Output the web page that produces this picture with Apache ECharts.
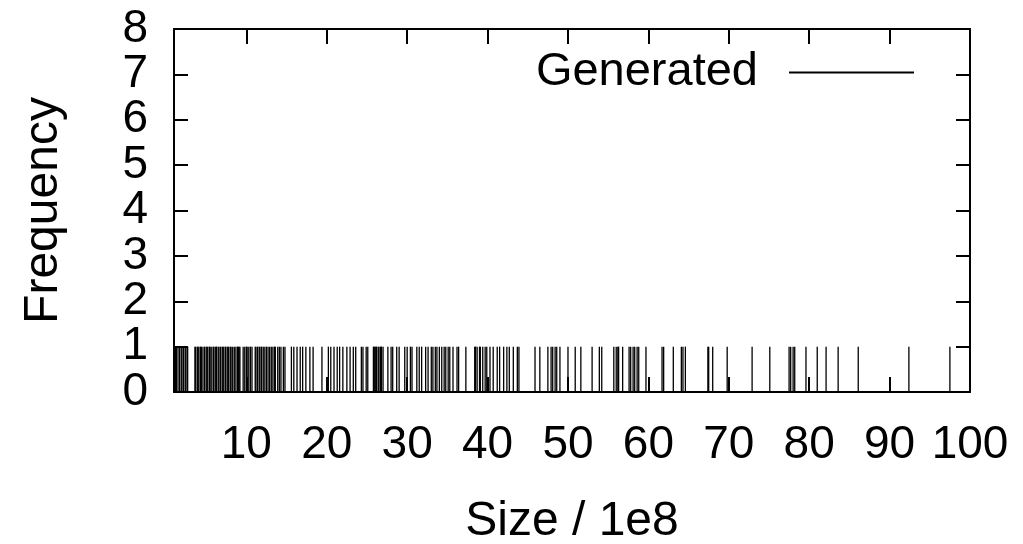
<!DOCTYPE html>
<html>
<head>
<meta charset="utf-8">
<title>Generated sizes</title>
<script src="https://cdn.jsdelivr.net/npm/echarts@6/dist/echarts.min.js"></script>
<style>
  html, body { margin: 0; padding: 0; background: #fff; }
  #chart { width: 1023px; height: 544px; }
</style>
</head>
<body>
<div id="chart"></div>
<script>
// sizes (in units of 1e8)
var sizesLow = [1.2, 1.3, 1.5, 1.7, 1.9, 2.0, 2.2, 2.4, 2.5, 2.7, 3.6, 3.7, 3.9, 4.0, 4.1, 4.3, 4.4,
    4.6, 4.8, 5.0, 5.1, 5.2, 5.4, 5.5, 5.7, 5.9, 6.1, 6.2, 6.3, 6.5, 6.6, 6.8, 7.0, 7.1, 7.2,
    7.4, 7.6, 7.7, 7.8, 8.0, 8.1, 8.3, 8.5, 8.7, 8.9, 9.0, 9.1, 9.2, 9.6, 9.8, 10.0, 10.1,
    10.3, 10.5, 10.7, 11.1, 11.2, 11.4, 11.6, 11.7, 11.9, 12.1, 12.3, 12.5, 12.7, 12.9, 13.1,
    13.3, 13.5, 13.6, 13.9, 14.1, 14.3, 14.6, 14.8, 15.6, 15.9, 16.3, 16.7, 17.0, 17.4, 17.9,
    18.3, 19.4];
var sizesMid = [20.2, 20.5, 20.9, 21.3, 21.6, 22.0, 22.5, 22.9, 23.3, 23.6, 24.3, 24.5, 24.9, 25.1,
    25.8, 25.9, 26.0, 26.1, 26.2, 26.4, 26.5, 26.7, 26.8, 27.0, 27.6, 28.0, 28.2, 28.7, 29.0,
    29.7, 30.0, 30.4, 30.6, 31.2, 31.5, 31.8, 32.3, 32.6, 33.0, 33.2, 33.5, 33.7, 34.0, 34.3,
    34.6, 34.8, 35.1, 35.3, 35.7, 36.2, 36.4, 37.3, 38.4, 38.5, 38.7, 39.0, 39.1, 39.4, 39.7,
    39.9];
var sizesHigh = [40.3, 40.7, 41.2, 41.5, 42.0, 42.4, 42.7, 43.2, 43.7, 43.9, 45.9, 46.5, 47.5, 47.9,
    48.1, 48.4, 48.6, 49.0, 50.0, 50.9, 51.6, 53.0, 53.9, 54.2, 55.7, 56.0, 56.2, 56.3, 56.8,
    57.6, 57.8, 58.1, 58.3, 58.6, 58.8, 59.7];
var sizesTail = [61.7, 61.9, 63.1, 64.1, 64.3, 64.6, 67.4, 67.5, 68.0, 69.8, 72.9, 75.1, 77.5, 77.7,
    78.0, 78.2, 79.6, 81.0, 82.1, 83.6, 86.1, 92.4, 97.5];
// every size shows up once
var freqLow  = [1,1,1,1,1,1,1,1,1,1, 1,1,1,1,1,1,1,1,1,1, 1,1,1,1,1,1,1,1,1,1, 1,1,1,1,1,1,1,1,1,1,
    1,1,1,1,1,1,1,1,1,1, 1,1,1,1,1,1,1,1,1,1, 1,1,1,1,1,1,1,1,1,1, 1,1,1,1,1,1,1,1,1,1, 1,1,1,1];
var freqMid  = [1,1,1,1,1,1,1,1,1,1, 1,1,1,1,1,1,1,1,1,1, 1,1,1,1,1,1,1,1,1,1, 1,1,1,1,1,1,1,1,1,1,
    1,1,1,1,1,1,1,1,1,1, 1,1,1,1,1,1,1,1,1,1];
var freqHigh = [1,1,1,1,1,1,1,1,1,1, 1,1,1,1,1,1,1,1,1,1, 1,1,1,1,1,1,1,1,1,1, 1,1,1,1,1,1];
var freqTail = [1,1,1,1,1,1,1,1,1,1, 1,1,1,1,1,1,1,1,1,1, 1,1,1];

var xTicks = [10, 20, 30, 40, 50, 60, 70, 80, 90, 100];
var seriesName = 'Generated';

var sizes = sizesLow.concat(sizesMid, sizesHigh, sizesTail);
var freqs = freqLow.concat(freqMid, freqHigh, freqTail);
var points = sizes.map(function (s, i) { return [s, freqs[i]]; });

var chart = echarts.init(document.getElementById('chart'));
var font = 'Liberation Sans, Arial, sans-serif';
var frame = { show: true, onZero: false, lineStyle: { color: '#000', width: 2 } };
var tick = { color: '#000', width: 2 };

// the y labels are packed so tight that echarts drops some; split them over two axes
function yLabels(keepOdd) {
    return {
        showMinLabel: true, showMaxLabel: true, hideOverlap: false,
        fontSize: 46, color: '#000', margin: 26, fontFamily: font,
        formatter: function (v) { return (v % 2 === 1) === keepOdd ? String(v) : ''; }
    };
}

var option = {
    animation: false,
    backgroundColor: '#fff',
    textStyle: { fontFamily: font },
    grid: { left: 174, right: 53, top: 29, bottom: 152, outerBoundsMode: 'none', containLabel: false },
    legend: {
        right: 104,
        top: 44,
        align: 'right',
        itemWidth: 125,
        itemHeight: 2,
        data: [{ name: seriesName, icon: 'rect' }],
        itemStyle: { color: '#000' },
        textStyle: { fontSize: 47, color: '#000', fontFamily: font, padding: [0, 26, 0, 0] }
    },
    xAxis: [{
        type: 'value', min: 1, max: 100, position: 'bottom',
        name: 'Size / 1e8', nameLocation: 'middle', nameGap: 106,
        nameTextStyle: { fontSize: 48, color: '#000', fontFamily: font },
        axisLine: frame,
        axisTick: { show: true, inside: true, length: 15, customValues: xTicks, lineStyle: tick },
        axisLabel: { show: true, customValues: xTicks, fontSize: 46, color: '#000', margin: 30, fontFamily: font },
        splitLine: { show: false }
    }, {
        type: 'value', min: 1, max: 100, position: 'top',
        axisLine: frame,
        axisTick: { show: true, inside: true, length: 15, customValues: xTicks, lineStyle: tick },
        axisLabel: { show: false },
        splitLine: { show: false }
    }],
    yAxis: [{
        type: 'value', min: 0, max: 8, interval: 1, position: 'left',
        name: 'Frequency', nameLocation: 'middle', nameGap: 106, nameRotate: 90,
        nameTextStyle: { fontSize: 48, color: '#000', fontFamily: font },
        axisLine: frame,
        axisTick: { show: true, inside: true, length: 14, lineStyle: tick },
        axisLabel: yLabels(false),
        splitLine: { show: false }
    }, {
        type: 'value', min: 0, max: 8, interval: 1, position: 'right',
        axisLine: frame,
        axisTick: { show: true, inside: true, length: 14, lineStyle: tick },
        axisLabel: { show: false },
        splitLine: { show: false }
    }, {
        type: 'value', min: 0, max: 8, interval: 1, position: 'left', offset: 0,
        axisLine: { show: false },
        axisTick: { show: false },
        axisLabel: yLabels(true),
        splitLine: { show: false }
    }],
    series: [{
        name: seriesName,
        type: 'custom',
        xAxisIndex: 0,
        yAxisIndex: 0,
        itemStyle: { color: '#000' },
        data: points,
        renderItem: function (params, api) {
            var base = api.coord([api.value(0), 0]);
            var top = api.coord([api.value(0), api.value(1)]);
            return {
                type: 'line',
                shape: { x1: base[0], y1: base[1], x2: top[0], y2: top[1] },
                style: { stroke: '#000', lineWidth: 1.3 }
            };
        }
    }]
};

chart.setOption(option);
</script>
</body>
</html>
